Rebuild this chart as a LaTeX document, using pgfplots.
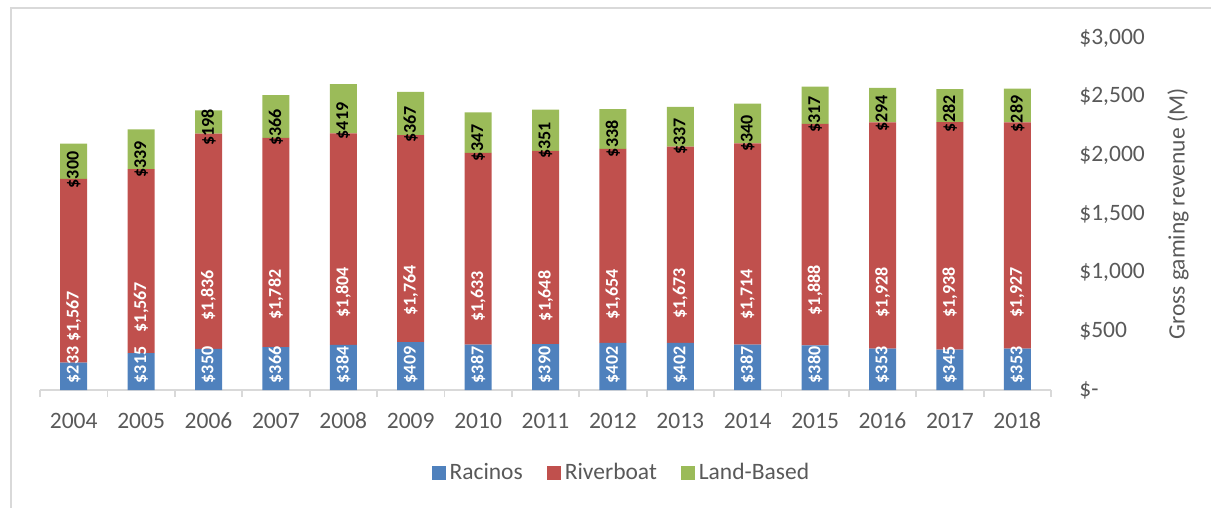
\documentclass[border=0pt]{standalone}
\usepackage{fontspec}
\setmainfont{Carlito}
\usepackage{pgfplots}
\pgfplotsset{compat=1.18}
\usepackage{pgfplotstable}
\definecolor{racino}{HTML}{4F81BD}
\definecolor{river}{HTML}{C0504D}
\definecolor{land}{HTML}{9BBB59}
\definecolor{txt}{HTML}{595959}
\definecolor{rule}{HTML}{D9D9D9}

% gross gaming revenue, $M
\pgfplotstableread{
year racinos riverboat land
2004 233 1567 300
2005 315 1567 339
2006 350 1836 198
2007 366 1782 366
2008 384 1804 419
2009 409 1764 367
2010 387 1633 347
2011 390 1648 351
2012 402 1654 338
2013 402 1673 337
2014 387 1714 340
2015 380 1888 317
2016 353 1928 294
2017 345 1938 282
2018 353 1927 289
}\gaming

\begin{document}
\begin{tikzpicture}
\useasboundingbox (0,0) rectangle (605.5bp,254bp);
\draw[rule, line width=0.9bp] (5.5bp,-10bp) -- (5.5bp,250bp) -- (640bp,250bp);
\begin{axis}[
  at={(20bp,59bp)}, anchor=south west,
  width=505.5bp, height=176bp, scale only axis,
  clip=false,
  ybar stacked, bar width=13.5bp,
  xmin=-0.5, xmax=14.5, ymin=0, ymax=3000,
  axis x line*=bottom, axis y line*=right,
  y axis line style={draw=none},
  x axis line style={rule, line width=0.9bp},
  xtick={0,...,14},
  xticklabels={2004,2005,2006,2007,2008,2009,2010,2011,2012,2013,2014,2015,2016,2017,2018},
  minor xtick={-0.5,0.5,...,14.5},
  major tick length=0pt, minor tick length=3.5bp,
  tick align=outside,
  minor tick style={rule, line width=0.9bp},
  ytick={0,500,...,3000},
  yticklabels={{\$-},{\$500},{\$1,000},{\$1,500},{\$2,000},{\$2,500},{\$3,000}},
  tick label style={font=\fontsize{11.75bp}{14bp}\selectfont, text=txt},
  xticklabel style={anchor=base, yshift=-19bp},
  yticklabel style={anchor=west, inner sep=0pt, xshift=14bp},
  ylabel={Gross gaming revenue (M)},
  ylabel style={at={(rel axis cs:1,0.5)}, anchor=center, yshift=-63.5bp,
    font=\fontsize{11.75bp}{14bp}\selectfont, text=txt},
  /pgf/number format/.cd, fixed, 1000 sep={,}, assume math mode=true, /pgfplots/.cd,
  visualization depends on={rawy \as \rawy},
  nodes near coords={\$\pgfmathprintnumber{\pgfplotspointmeta}},
  nodes near coords style={anchor=center, inner sep=0pt,
    font=\bfseries\fontsize{9bp}{10bp}\selectfont},
  legend columns=3,
  legend style={at={(rel axis cs:0.576,-0.236)}, anchor=center, draw=none,
    font=\fontsize{11.75bp}{14bp}\selectfont, text=txt,
    /tikz/every even column/.append style={column sep=10bp}},
  legend image code/.code={\fill[#1] (0bp,-3.5bp) rectangle (7bp,3.5bp);},
]
% racino labels sit at one height near the bottom, as in the source
\addplot[fill=racino, draw=none, nodes near coords style={text=white,
    shift={(axis direction cs:0,-\rawy/2)}, yshift=12.5bp, rotate=90}]
  table[x expr=\coordindex, y=racinos] {\gaming};
% the shift is applied twice, hence /4 for the segment centre
\addplot[fill=river, draw=none, nodes near coords style={text=white,
    shift={(axis direction cs:0,-\rawy/4)}, rotate=90}]
  table[x expr=\coordindex, y=riverboat] {\gaming};
\addplot[fill=land, draw=none, nodes near coords style={text=black,
    shift={(axis direction cs:0,-\rawy/4)}, rotate=90}]
  table[x expr=\coordindex, y=land] {\gaming};
\legend{Racinos,Riverboat,Land-Based}
\end{axis}
\end{tikzpicture}
\end{document}
